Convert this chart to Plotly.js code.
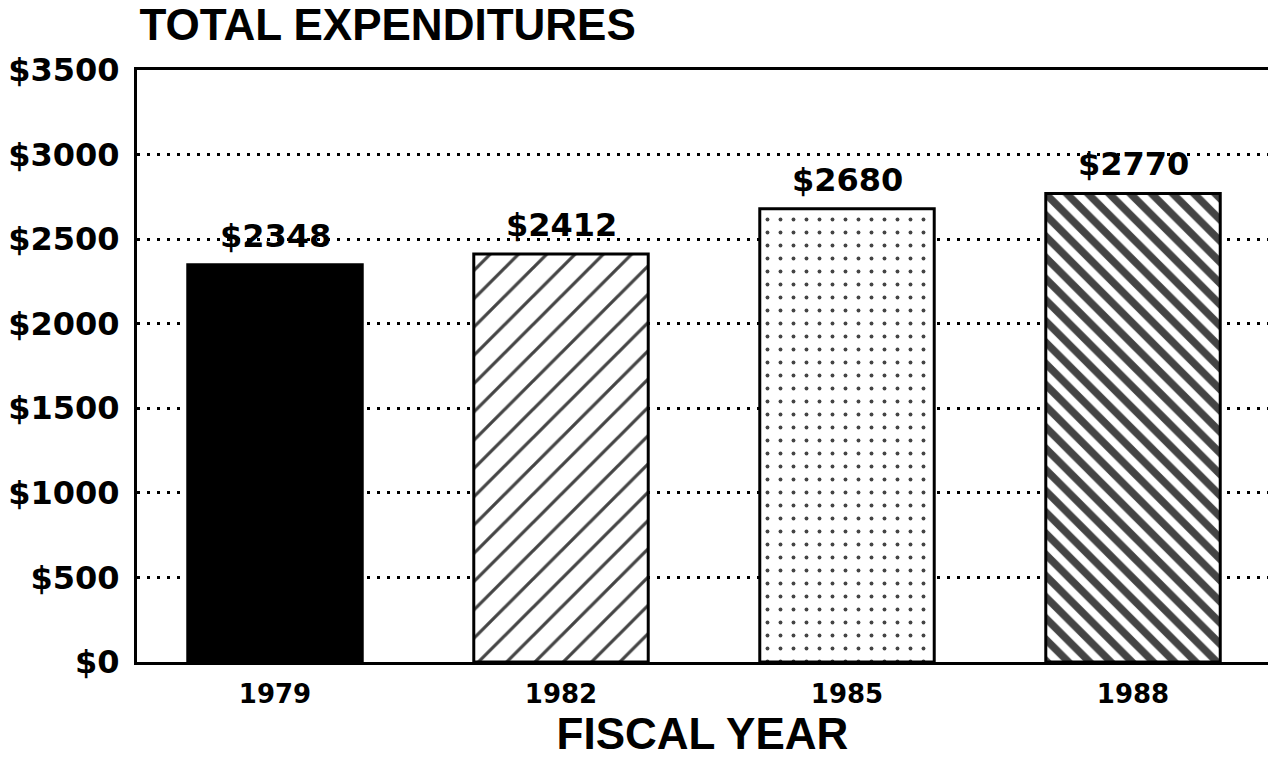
<!DOCTYPE html>
<html>
<head>
<meta charset="utf-8">
<script src="https://cdn.plot.ly/plotly-3.0.1.min.js"></script>
<style>html,body{margin:0;padding:0;background:#fff;}#chart{width:1268px;height:780px;}</style>
</head>
<body>
<div id="chart"></div>
<script>
const years = ["1979", "1982", "1985", "1988"];
const expenditures = [2348, 2412, 2680, 2770];
const yTickValues = [0, 500, 1000, 1500, 2000, 2500, 3000, 3500];
const yTickLabels = ["$0", "$500", "$1000", "$1500", "$2000", "$2500", "$3000", "$3500"];
const barLabels = expenditures.map(v => "$" + v);
const fillColors = ["#000000", "#ffffff", "#ffffff", "#ffffff"];
const patternShapes = ["", "/", ".", "\\"];
const patternSizes = [10, 20, 13, 15];
const patternSolidity = [0.3, 0.16, 0.07, 0.5];

const numFont = "DejaVu Sans, Arial, sans-serif";
const txtFont = "Liberation Sans, Arial, sans-serif";

const trace = {
  type: "bar",
  x: years,
  y: expenditures,
  width: 0.61,
  marker: {
    color: fillColors,
    line: {color: "#000", width: 3},
    pattern: {
      shape: patternShapes,
      size: patternSizes,
      solidity: patternSolidity,
      fgcolor: "#000",
      fgopacity: 1,
      fillmode: "overlay"
    }
  },
  hoverinfo: "none"
};

const annotations = years.map((yr, i) => ({
  x: i, y: expenditures[i], xref: "x", yref: "y",
  text: barLabels[i], showarrow: false,
  yanchor: "bottom", yshift: 8,
  font: {family: numFont, size: 32, color: "#000", weight: "bold"}
}));

const layout = {
  width: 1268, height: 780,
  margin: {l: 137, r: 0, t: 70, b: 118},
  paper_bgcolor: "#fff", plot_bgcolor: "#fff",
  showlegend: false,
  title: {
    text: "TOTAL EXPENDITURES",
    x: 0.11, xref: "container", xanchor: "left",
    y: 0.988, yref: "container", yanchor: "top",
    pad: {t: 0, b: 0, l: 0, r: 0},
    font: {family: txtFont, size: 44, color: "#000", weight: "bold"}
  },
  xaxis: {
    type: "category",
    range: [-0.4825, 3.472],
    showline: true, linecolor: "#000", linewidth: 3, mirror: true,
    showgrid: false, zeroline: false, ticks: "",
    ticklabelstandoff: 7,
    tickfont: {family: numFont, size: 26, color: "#000", weight: "bold"},
    title: {
      text: "FISCAL YEAR", standoff: 0,
      font: {family: txtFont, size: 44, color: "#000", weight: "bold"}
    }
  },
  yaxis: {
    range: [0, 3500],
    tickvals: yTickValues, ticktext: yTickLabels,
    showline: true, linecolor: "#000", linewidth: 3,
    showgrid: true, gridcolor: "#000", gridwidth: 3, griddash: "3px,7px",
    zeroline: false, ticks: "",
    ticklabelstandoff: 8,
    tickfont: {family: numFont, size: 32, color: "#000", weight: "bold"}
  },
  annotations: annotations
};

Plotly.newPlot("chart", [trace], layout, {staticPlot: true, displayModeBar: false});
</script>
</body>
</html>
